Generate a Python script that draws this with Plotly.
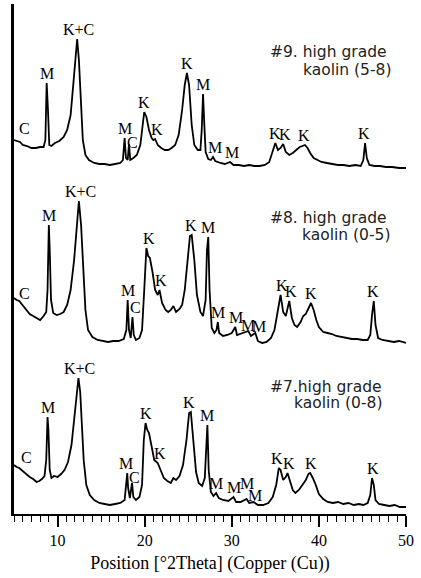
import numpy as np
import plotly.graph_objects as go

# ---------------- data (2theta in degrees, intensity in arbitrary counts) ----------------
x7 = [5.0, 5.3, 5.6, 6.0, 6.4, 6.8, 7.2, 7.6, 7.9, 8.2, 8.5, 8.7, 8.85, 8.95, 9.1, 9.3, 9.6, 10.0,
      10.4, 10.8, 11.2, 11.6, 11.9, 12.2, 12.4, 12.6, 12.8, 13.0, 13.3, 13.7, 14.2, 14.8, 15.4, 16.0,
      16.6, 17.2, 17.7, 17.9, 18.0, 18.1, 18.3, 18.55, 18.7, 19.0, 19.4, 19.7, 19.9, 20.1, 20.3, 20.5,
      20.8, 21.1, 21.5, 21.8, 22.2, 22.6, 23.0, 23.3, 23.6, 24.0, 24.4, 24.8, 25.1, 25.3, 25.6, 25.9,
      26.2, 26.6, 26.9, 27.1, 27.2, 27.35, 27.6, 27.9, 28.2, 28.5, 29.0, 29.6, 30.2, 30.5, 31.0, 31.7,
      32.0, 32.5, 33.0, 33.6, 34.2, 34.7, 35.1, 35.4, 35.6, 35.9, 36.2, 36.4, 36.7, 37.0, 37.3, 37.7,
      38.1, 38.5, 38.8, 39.0, 39.3, 39.6, 40.0, 40.5, 41.0, 41.6, 42.2, 42.8, 43.4, 44.0, 44.6, 45.1,
      45.6, 45.9, 46.1, 46.3, 46.5, 46.9, 47.5, 48.1, 48.7, 49.3, 50.0]
y7 = [49, 47, 46, 43, 40, 37, 35, 32, 33, 35, 38, 54, 97, 84, 44, 36, 38, 37,
      40, 44, 52, 69, 94, 124, 136, 122, 89, 54, 29, 19, 14, 11, 10, 9,
      10, 11, 14, 29, 41, 26, 16, 31, 17, 14, 17, 29, 74, 91, 84, 81,
      66, 54, 51, 44, 36, 33, 31, 36, 34, 38, 49, 74, 101, 102, 74, 42,
      31, 28, 36, 74, 89, 44, 22, 18, 21, 16, 14, 13, 17, 12, 12, 15,
      11, 12, 9, 9, 11, 17, 29, 46, 44, 34, 37, 41, 32, 24, 21, 24,
      29, 34, 40, 41, 36, 30, 20, 15, 12, 11, 12, 10, 11, 9, 10, 9,
      11, 19, 36, 29, 14, 10, 9, 8, 9, 7, 7]

x8 = [5.0, 5.3, 5.6, 6.0, 6.4, 6.8, 7.2, 7.6, 8.0, 8.4, 8.7, 8.85, 9.0, 9.1, 9.25, 9.5, 9.9, 10.3,
      10.7, 11.1, 11.5, 11.9, 12.2, 12.45, 12.7, 12.9, 13.2, 13.5, 14.0, 14.6, 15.2, 15.8, 16.4, 17.0,
      17.6, 17.9, 18.05, 18.2, 18.4, 18.6, 18.75, 19.0, 19.4, 19.7, 19.95, 20.2, 20.4, 20.6, 20.9, 21.2,
      21.5, 21.7, 22.0, 22.4, 22.7, 23.0, 23.3, 23.6, 24.0, 24.3, 24.6, 24.9, 25.2, 25.4, 25.7, 26.0,
      26.4, 26.7, 27.0, 27.15, 27.3, 27.45, 27.7, 28.0, 28.25, 28.4, 28.55, 29.0, 29.5, 30.0, 30.4, 30.6,
      31.0, 31.5, 31.9, 32.2, 32.7, 33.0, 33.5, 34.0, 34.5, 34.9, 35.3, 35.6, 35.9, 36.2, 36.6, 36.9,
      37.2, 37.5, 37.9, 38.2, 38.5, 38.8, 39.1, 39.4, 39.7, 40.0, 40.5, 41.0, 41.5, 42.0, 42.6, 43.2,
      43.8, 44.4, 45.0, 45.6, 45.9, 46.1, 46.3, 46.5, 46.8, 47.3, 48.0, 48.6, 49.2, 50.0]
y8 = [46, 44, 43, 39, 35, 30, 28, 26, 24, 28, 32, 54, 119, 94, 44, 31, 29, 30,
      32, 39, 54, 84, 119, 143, 119, 79, 34, 14, 7, 4, 3, 2, 3, 3,
      5, 14, 44, 14, 6, 27, 9, 4, 6, 14, 54, 96, 88, 86, 72, 54,
      49, 54, 41, 34, 32, 34, 38, 32, 35, 39, 54, 82, 108, 109, 84, 49,
      32, 28, 44, 94, 107, 54, 16, 11, 14, 22, 11, 8, 9, 11, 17, 9,
      10, 12, 13, 8, 11, 3, 1, 2, 6, 14, 34, 49, 32, 28, 43, 26,
      19, 17, 22, 28, 30, 36, 41, 34, 24, 17, 12, 11, 10, 8, 7, 6,
      5, 5, 4, 4, 9, 29, 43, 19, 6, 4, 3, 2, 3, 1]

x9 = [5.0, 5.3, 5.7, 6.0, 6.5, 7.0, 7.5, 8.0, 8.4, 8.6, 8.75, 8.9, 9.05, 9.3, 9.7, 10.2, 10.7, 11.1,
      11.5, 11.8, 12.05, 12.25, 12.45, 12.65, 12.9, 13.2, 13.6, 14.2, 14.8, 15.4, 16.0, 16.6, 17.2, 17.5,
      17.7, 17.85, 18.05, 18.2, 18.35, 18.7, 19.1, 19.5, 19.8, 19.95, 20.2, 20.5, 20.8, 21.0, 21.2, 21.5,
      21.9, 22.3, 22.7, 23.1, 23.5, 23.9, 24.3, 24.6, 24.85, 25.1, 25.4, 25.7, 26.1, 26.4, 26.55, 26.7,
      26.85, 27.0, 27.3, 27.6, 27.85, 28.1, 28.7, 29.2, 29.8, 30.2, 30.8, 31.4, 32.0, 32.6, 33.2, 33.8,
      34.3, 34.7, 35.0, 35.3, 35.6, 35.9, 36.2, 36.6, 37.0, 37.4, 37.8, 38.1, 38.4, 38.7, 39.0, 39.4,
      39.8, 40.3, 40.9, 41.5, 42.2, 42.8, 43.5, 44.2, 44.8, 45.1, 45.3, 45.5, 45.8, 46.4, 47.0, 47.7,
      48.4, 49.2, 50.0]
y9 = [29, 28, 27, 24, 23, 21, 21, 22, 22, 29, 86, 59, 24, 23, 26, 28, 32, 39,
      54, 84, 114, 130, 109, 69, 29, 14, 9, 6, 5, 5, 4, 5, 6, 9,
      31, 11, 9, 25, 9, 11, 14, 24, 51, 57, 52, 39, 31, 29, 30, 24,
      21, 19, 19, 21, 24, 34, 59, 84, 96, 84, 44, 24, 19, 19, 39, 75,
      44, 17, 10, 9, 12, 8, 6, 5, 7, 4, 4, 3, 4, 3, 3, 4,
      7, 19, 26, 19, 21, 25, 17, 14, 16, 19, 22, 23, 24, 21, 16, 11,
      9, 7, 6, 5, 4, 4, 3, 4, 3, 9, 26, 11, 4, 3, 3, 2,
      2, 1, 1]

samples_line1 = ["#7.high grade", "#8. high grade", "#9. high grade"]
samples_line2 = ["kaolin (0-8)", "kaolin (0-5)", "kaolin (5-8)"]

labels7_text = ["C", "M", "K+C", "M", "C", "K", "K", "K", "M", "M", "M", "M", "M", "K", "K", "K", "K"]
labels7_x = [6.4, 8.9, 12.5, 17.9, 18.8, 20.2, 21.8, 25.1, 27.2, 28.2, 30.2, 31.8, 32.7, 35.2, 36.6, 39.1, 46.2]

labels8_text = ["C", "M", "K+C", "M", "C", "K", "K", "K", "M", "M", "M", "M", "M", "K", "K", "K", "K"]
labels8_x = [6.15, 9.02, 12.6, 18.1, 18.9, 20.5, 21.9, 25.35, 27.3, 28.45, 30.5, 31.9, 33.15, 35.8, 36.8, 39.1, 46.2]

labels9_text = ["C", "M", "K+C", "M", "C", "K", "K", "K", "M", "M", "M", "K", "K", "K", "K"]
labels9_x = [6.15, 8.8, 12.4, 17.76, 18.56, 19.94, 21.44, 24.9, 26.7, 28.1, 30.06, 35.0, 36.15, 38.33, 45.23]

x_ticks = [10, 20, 30, 40, 50]
x_title = "Position [°2Theta] (Copper (Cu))"

# ---------------- figure ----------------
offsets = [0, 170, 345]           # vertical stacking of patterns
series = [(x7, y7, labels7_text, labels7_x),
          (x8, y8, labels8_text, labels8_x),
          (x9, y9, labels9_text, labels9_x)]
title_pos = [(34.2, 127, 36.9, 111), (34.2, 126, 37.8, 109), (34.2, 117, 37.9, 99)]
# manual vertical nudges of some peak labels (series index, label index) -> units
label_nudge = {(0, 0): 7, (0, 4): -4, (0, 11): 6, (0, 12): -3,
               (1, 0): 2, (1, 11): -4, (1, 12): 5,
               (2, 0): 7, (2, 4): 6}

SERIF = "Liberation Serif"
SANS = "DejaVu Sans"

fig = go.Figure()
annotations = []
for i, (xs, ys, ltxt, lx) in enumerate(series):
    xs_a = np.array(xs, dtype=float)
    ys_a = np.array(ys, dtype=float) + offsets[i]
    fig.add_trace(go.Scatter(x=xs_a, y=ys_a, mode="lines",
                             line=dict(color="black", width=1.8), showlegend=False,
                             hoverinfo="skip"))
    for j, (t, xl) in enumerate(zip(ltxt, lx)):
        m = (xs_a >= xl - 0.3) & (xs_a <= xl + 0.3)
        top = ys_a[m].max()
        annotations.append(dict(x=xl, y=top + 10 + label_nudge.get((i, j), 0), text=t,
                                showarrow=False, xanchor="center", yanchor="middle",
                                font=dict(family=SERIF, size=16, color="black")))
    x1, y1, x2, y2 = title_pos[i]
    annotations.append(dict(x=x1, y=y1 + offsets[i], text=samples_line1[i], showarrow=False,
                            xanchor="left", yanchor="middle",
                            font=dict(family=SANS, size=15.5, color="#222")))
    annotations.append(dict(x=x2, y=y2 + offsets[i], text=samples_line2[i], showarrow=False,
                            xanchor="left", yanchor="middle",
                            font=dict(family=SANS, size=15.5, color="#222")))

fig.update_layout(
    width=421, height=578,
    margin=dict(l=14, r=15, t=4, b=64),
    paper_bgcolor="white", plot_bgcolor="white",
    annotations=annotations,
    xaxis=dict(range=[5, 50], tickvals=x_ticks, ticktext=[str(v) for v in x_ticks],
               showline=True, linecolor="black", linewidth=2,
               ticks="outside", ticklen=11, tickwidth=1.5, tickcolor="black",
               minor=dict(dtick=1, tick0=0, ticks="outside", ticklen=6, tickwidth=1.2,
                          tickcolor="black", showgrid=False),
               showgrid=False, zeroline=False,
               tickfont=dict(family=SERIF, size=16, color="black"),
               title=dict(text=x_title, font=dict(family=SERIF, size=18, color="black"),
                          standoff=8)),
    yaxis=dict(range=[0, 510], showline=True, linecolor="black", linewidth=2.5,
               showticklabels=False, ticks="", showgrid=False, zeroline=False),
)

fig.write_html("out.html")
